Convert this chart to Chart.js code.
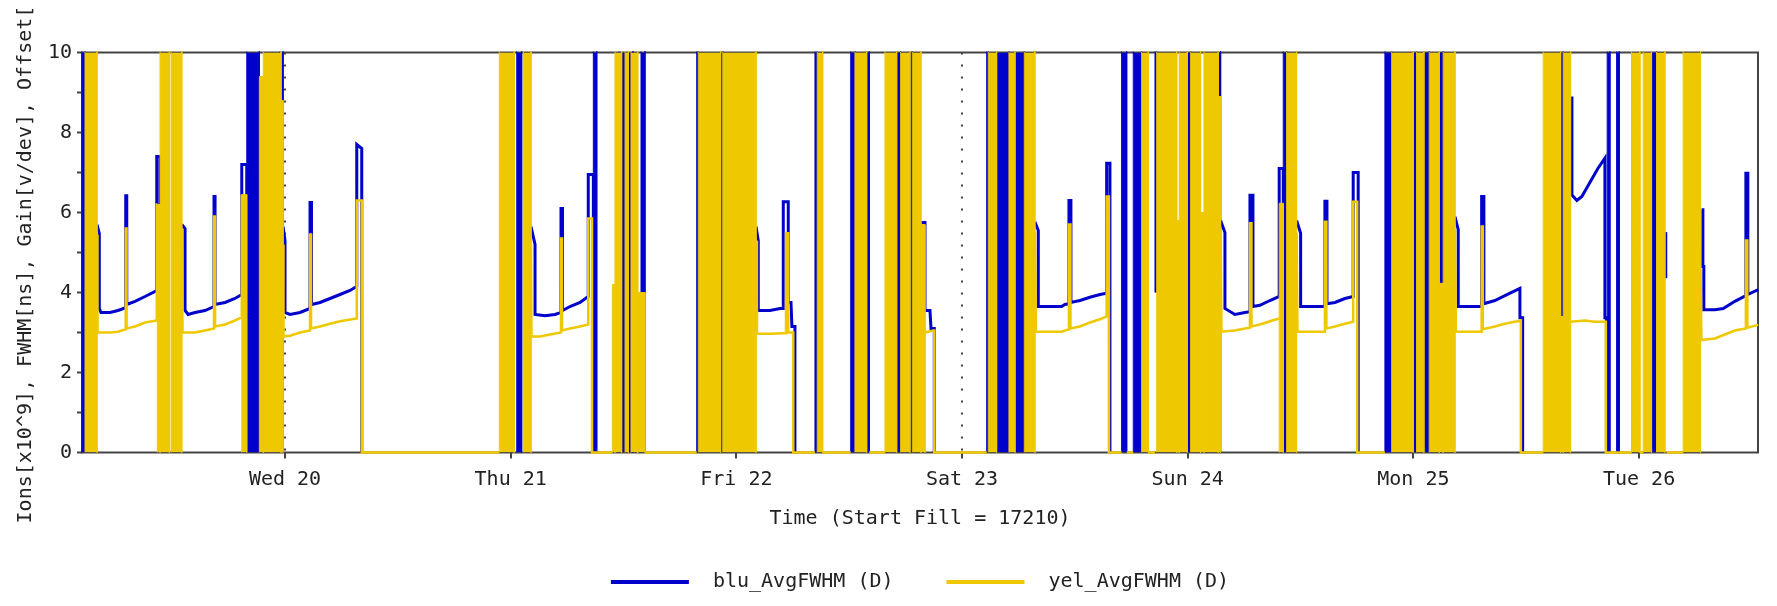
<!DOCTYPE html>
<html><head><meta charset="utf-8">
<script src="https://cdn.jsdelivr.net/npm/chart.js@4/dist/chart.umd.min.js"></script>
<style>html,body{margin:0;padding:0;background:#fff;}#wrap{width:1777px;height:606px;}</style>
</head><body><div id="wrap"><canvas id="c" width="1777" height="606"></canvas></div>
<script>
// ---- time axis: hours since Tue 19 00:00 ----
const xMin = 2.41;
const xMax = 180.65;
const dayTicks = [24, 48, 72, 96, 120, 144, 168];
const dayLabels = ['Wed 20', 'Thu 21', 'Fri 22', 'Sat 23', 'Sun 24', 'Mon 25', 'Tue 26'];
const yTicks = [0, 1, 2, 3, 4, 5, 6, 7, 8, 9, 10];
const yTickLabels = ['0', '', '2', '', '4', '', '6', '', '8', '', '10'];
const seriesNames = ['blu_AvgFWHM (D)', 'yel_AvgFWHM (D)'];
const xTitle = 'Time (Start Fill = 17210)';
const yTitle = 'Ions[x10^9], FWHM[ns], Gain[v/dev], Offset[  ';
const OVER = 10.6; // off-scale (above 10)

// ---- blue series: [hour, value], null = no data ----
const bluPoints = [
  [4.01,5.7],[4.22,5.5],[4.25,3.6],[4.43,3.5],[5.39,3.5],[6.24,3.55],[7.06,3.62],[7.06,6.42],[7.17,6.42],[7.17,3.7],[8.05,3.78],[9.11,3.9],[10.36,4.05],[10.36,7.4],[10.71,7.4],[10.71,0],[10.71,null],
  [13.02,5.7],[13.37,5.6],[13.37,3.55],[13.69,3.45],[14.43,3.5],[15.49,3.55],[16.45,3.65],[16.45,6.4],[16.56,6.4],[16.56,3.7],[17.62,3.75],[18.68,3.85],[19.40,3.95],[19.40,7.2],[19.93,7.2],[19.93,0],[19.93,null],
  [23.79,5.65],[24.00,5.3],[24.00,3.5],[24.53,3.45],[25.60,3.5],[26.66,3.6],[26.66,6.25],[26.82,6.25],[26.82,3.7],[27.72,3.75],[28.79,3.85],[29.85,3.95],[30.91,4.05],[31.63,4.15],[31.63,7.7],[32.16,7.6],[32.16,0],[32.16,null],
  [50.16,5.65],[50.59,5.2],[50.59,3.45],[51.65,3.42],[52.71,3.45],[53.35,3.5],[53.35,6.1],[53.51,6.1],[53.51,3.55],[54.31,3.65],[55.37,3.75],[56.25,3.9],[56.25,6.95],[56.79,6.95],[56.79,0],[56.79,null],
  [74.09,5.65],[74.33,5.3],[74.33,3.55],[75.57,3.55],[76.64,3.6],[76.99,3.6],[76.99,6.27],[77.52,6.27],[77.52,3.75],[77.81,3.75],[77.91,3.15],[78.23,3.15],[78.23,0],[78.23,null],
  [91.63,5.75],[92.06,5.75],[92.06,3.55],[92.59,3.55],[92.70,3.1],[93.05,3.1],[93.05,0],[93.05,null],
  [103.75,5.77],[104.11,5.55],[104.11,3.65],[105.35,3.65],[106.59,3.65],[106.94,3.7],[107.37,3.72],[107.37,6.3],[107.58,6.3],[107.58,3.75],[108.54,3.8],[109.60,3.88],[110.67,3.95],[111.38,3.98],[111.38,7.23],[111.73,7.23],[111.73,0],[111.73,null],
  [123.50,5.8],[123.96,5.5],[123.96,3.6],[125.02,3.45],[126.09,3.5],[126.62,3.52],[126.62,6.43],[126.94,6.43],[126.94,3.65],[127.68,3.68],[128.74,3.8],[129.73,3.9],[129.73,7.1],[130.16,7.1],[130.16,0],[130.16,null],
  [131.58,5.8],[132.01,5.48],[132.01,3.65],[133.00,3.65],[134.59,3.65],[134.59,6.28],[134.81,6.28],[134.81,3.72],[135.66,3.75],[136.72,3.85],[137.60,3.9],[137.60,7.0],[138.13,7.0],[138.13,0],[138.13,null],
  [148.42,5.9],[148.77,5.57],[148.77,3.65],[150.01,3.65],[151.26,3.65],[151.26,6.4],[151.50,6.4],[151.50,3.72],[152.67,3.8],[153.73,3.92],[155.33,4.1],[155.33,3.37],[155.62,3.37],[155.62,0],[155.62,null],
  [160.72,8.86],[160.86,8.86],[160.86,6.44],[161.39,6.3],[161.92,6.4],[162.77,6.75],[163.62,7.1],[164.37,7.36],[164.37,3.37],[164.53,3.37],[164.53,0],[164.53,null],
  [174.65,6.07],[174.79,6.07],[174.79,4.65],[174.89,4.65],[174.89,3.57],[176.06,3.57],[176.95,3.6],[178.19,3.78],[179.36,3.92],[179.36,6.98],[179.57,6.98],[179.57,3.95],[180.67,4.07]
];
// blue dense-oscillation stretches: [from, to, top?, bottom?]
const bluBands = [
  [2.41,2.73],[19.93,21.27],[23.47,23.79],[48.64,49.17],[56.79,57.15],[59.52,61.01],[61.86,62.28],
  [67.78,67.95],[70.33,70.55],[80.36,80.60],[84.16,84.61],[85.86,86.13],[89.05,89.47],[90.46,90.71],
  [98.62,98.79],[99.68,100.99],[101.63,102.62],[112.97,113.51],[114.21,115.10],[116.52,116.70,OVER,4.0],
  [119.95,120.31],[123.25,123.50],[130.16,130.52],[140.97,141.69],[143.98,144.34],[145.12,145.68],
  [146.75,147.17],[159.66,159.93],[164.61,164.90],[165.61,165.89],[169.33,169.86],[170.75,170.93,5.5,4.36]
];

// ---- yellow series ----
const yelPoints = [
  [4.01,5.45],[4.06,3.0],[5.39,3.0],[6.24,3.02],[7.06,3.08],[7.06,5.6],[7.15,5.6],[7.15,3.1],[8.05,3.15],[9.11,3.25],[10.36,3.3],[10.36,6.2],[10.42,6.2],[10.42,null],
  [13.02,5.6],[13.10,3.0],[14.43,3.0],[15.49,3.05],[16.45,3.1],[16.45,5.9],[16.56,5.9],[16.56,3.15],[17.62,3.2],[18.68,3.3],[19.40,3.38],[19.40,6.45],[19.40,null],
  [23.79,5.2],[23.84,2.9],[24.53,2.92],[25.60,3.0],[26.66,3.05],[26.66,5.45],[26.77,5.45],[26.77,3.1],[27.72,3.15],[28.79,3.22],[29.85,3.28],[31.63,3.35],[31.63,6.3],[32.16,6.3],[32.16,0],[46.79,0],[46.79,null],
  [50.16,5.2],[50.21,2.9],[51.12,2.9],[52.18,2.95],[53.35,3.0],[53.35,5.35],[53.46,5.35],[53.46,3.05],[54.31,3.1],[55.37,3.15],[56.25,3.2],[56.25,5.85],[56.65,5.85],[56.65,0],[58.81,0],[58.81,null],
  [62.28,0],[67.78,0],[67.78,null],
  [74.09,5.3],[74.19,2.97],[75.57,2.97],[76.99,2.98],[77.28,2.98],[77.28,5.48],[77.52,5.48],[77.52,3.0],[78.05,3.0],[78.05,0],[80.36,0],[80.36,null],
  [81.18,0],[84.16,0],[84.16,null],[86.13,0],[87.80,0],[87.80,null],
  [92.06,3.0],[92.94,3.05],[93.05,3.05],[93.05,0],[98.62,0],[98.62,null],
  [103.75,5.5],[103.86,3.02],[105.35,3.02],[106.59,3.02],[107.37,3.08],[107.37,5.7],[107.53,5.7],[107.53,3.1],[108.54,3.15],[109.60,3.25],[110.67,3.33],[111.38,3.4],[111.38,6.4],[111.62,6.4],[111.62,0],[112.97,0],[112.97,null],
  [113.51,0],[114.21,0],[114.21,null],[115.81,0],[116.52,0],[116.52,null],
  [123.50,5.5],[123.59,3.02],[125.02,3.05],[126.09,3.1],[126.62,3.12],[126.62,5.73],[126.78,5.73],[126.78,3.15],[127.68,3.2],[128.74,3.28],[129.73,3.35],[129.73,null],
  [131.58,5.5],[131.67,3.02],[133.00,3.02],[134.59,3.02],[134.59,5.77],[134.75,5.77],[134.75,3.1],[135.66,3.15],[136.72,3.22],[137.60,3.27],[137.60,6.27],[138.03,6.27],[138.03,0],[140.97,0],[140.97,null],
  [148.42,5.57],[148.52,3.02],[150.01,3.02],[151.26,3.02],[151.26,5.65],[151.39,5.65],[151.39,3.08],[152.67,3.15],[153.73,3.22],[155.43,3.3],[155.43,0],[157.81,0],[157.81,null],
  [160.72,3.27],[162.24,3.3],[163.30,3.27],[164.47,3.27],[164.47,0],[167.20,0],[167.20,null],
  [168.09,0],[168.44,0],[168.44,null],[170.93,0],[172.69,0],[172.69,null],
  [174.54,4.6],[174.63,2.81],[176.06,2.85],[177.13,2.95],[178.19,3.05],[179.36,3.1],[179.36,5.3],[179.52,5.3],[179.52,3.12],[180.67,3.19]
];
const yelBands = [
  [2.73,4.01],[10.42,10.71,6.2],[10.71,11.70],[11.88,13.02],[19.40,19.93,6.45],[21.27,21.69,9.4],[21.69,23.58],[23.58,23.79,8.8],
  [46.79,48.38],[49.34,50.16],[58.81,59.09,4.2],[59.09,59.80],[60.16,60.51],[60.79,61.51],[61.51,62.28,4.0],
  [67.95,70.33],[70.55,74.09],[80.60,81.18],[84.61,85.86],[87.80,89.05],[89.47,90.46],[90.71,91.63],[91.63,92.06,5.7],
  [98.79,99.68],[100.99,101.63],[102.62,103.75],[115.10,115.81],[116.70,118.83],[118.83,119.10,5.8],[119.10,119.95],
  [120.31,121.37],[121.37,121.73,6.0],[121.73,123.25],[123.25,123.50,8.9],[129.73,130.16,6.23],[130.52,131.58],
  [141.69,143.98],[144.34,145.12],[145.68,146.75],[146.75,147.17,4.23],[147.17,148.42],
  [157.81,159.66],[159.66,159.93,3.4],[159.93,160.72],[167.20,168.09],[168.44,169.33],[169.86,170.75],[172.69,174.54]
];

// ---- styles ----
const BLUE = '#0000CC';
const YELLOW = '#EEC800';
const FRAME = '#444444';
const TEXT = '#222222';
const FONT = '"DejaVu Sans Mono", "Liberation Mono", monospace';

function toXY(pts) { return pts.map(p => ({ x: p[0], y: p[1] })); }
function bandDataset(b, color) {
  const top = b.length > 2 ? b[2] : OVER;
  const bot = b.length > 3 ? b[3] : 0;
  return {
    label: '_band', data: [{x: b[0], y: bot}, {x: b[0], y: top}, {x: b[1], y: top}, {x: b[1], y: bot}],
    borderColor: color, backgroundColor: color, borderWidth: 1, pointRadius: 0, tension: 0,
    fill: { value: bot }, clip: 1
  };
}
function lineDataset(name, pts, color, w) {
  return { label: name, data: toXY(pts), borderColor: color, backgroundColor: color, borderWidth: w,
    pointRadius: 0, tension: 0, fill: false, spanGaps: false, clip: 2 };
}

const datasets = [];
// yellow first => drawn on top
datasets.push(lineDataset(seriesNames[1], yelPoints, YELLOW, 2.5));
yelBands.forEach(b => datasets.push(bandDataset(b, YELLOW)));
datasets.push(lineDataset(seriesNames[0], bluPoints, BLUE, 3));
bluBands.forEach(b => datasets.push(bandDataset(b, BLUE)));

const framePlugin = {
  id: 'frame',
  beforeDatasetsDraw(chart) {
    const a = chart.chartArea, ctx = chart.ctx;
    ctx.save(); ctx.strokeStyle = FRAME; ctx.lineWidth = 2;
    ctx.strokeRect(a.left, a.top, a.right - a.left, a.bottom - a.top);
    ctx.restore();
  }
};
const legendPlugin = {
  id: 'bottomLegend',
  afterDraw(chart) {
    const a = chart.chartArea, ctx = chart.ctx;
    const colors = [BLUE, YELLOW];
    ctx.save();
    ctx.font = '20px ' + FONT;
    ctx.textBaseline = 'middle';
    const lineLen = 78, gap = 24, itemGap = 53, y = 582;
    const widths = seriesNames.map(n => ctx.measureText(n).width);
    const total = lineLen * 2 + gap * 2 + widths[0] + widths[1] + itemGap;
    let x = (a.left + a.right) / 2 - total / 2;
    seriesNames.forEach((n, i) => {
      ctx.strokeStyle = colors[i]; ctx.lineWidth = 4;
      ctx.beginPath(); ctx.moveTo(x, y); ctx.lineTo(x + lineLen, y); ctx.stroke();
      ctx.fillStyle = TEXT; ctx.fillText(n, x + lineLen + gap, y);
      x += lineLen + gap + widths[i] + itemGap;
    });
    ctx.restore();
  }
};

new Chart(document.getElementById('c'), {
  type: 'line',
  data: { datasets },
  options: {
    responsive: false, animation: false, devicePixelRatio: 1,
    layout: { padding: { top: 52.5, right: 19, bottom: 72.5, left: 0 } },
    plugins: { legend: { display: false }, tooltip: { enabled: false } },
    scales: {
      x: {
        type: 'linear', min: xMin, max: xMax,
        afterBuildTicks: s => { s.ticks = dayTicks.map(v => ({ value: v })); },
        afterFit: s => { s.height = 81; },
        ticks: { callback: (v, i) => dayLabels[i], font: { family: FONT, size: 20 }, color: TEXT, padding: 9, maxRotation: 0, autoSkip: false },
        grid: { drawOnChartArea: true, color: FRAME, lineWidth: 2, tickBorderDash: [], tickLength: 6, tickColor: FRAME, tickWidth: 2 },
        border: { display: false, dash: [2, 10] },
        title: { display: true, text: xTitle, font: { family: FONT, size: 20 }, color: TEXT, padding: { top: 0, bottom: 3 } }
      },
      y: {
        type: 'linear', min: 0, max: 10,
        afterBuildTicks: s => { s.ticks = yTicks.map(v => ({ value: v })); },
        afterFit: s => { s.width = 82; },
        ticks: { callback: (v, i) => yTickLabels[i], font: { family: FONT, size: 20 }, color: TEXT, padding: 5, autoSkip: false },
        grid: { drawOnChartArea: false, tickLength: 5, tickColor: FRAME, tickWidth: 2 },
        border: { display: false },
        title: { display: true, text: yTitle, font: { family: FONT, size: 20 }, color: TEXT, padding: { top: 14, bottom: 0 } }
      }
    }
  },
  plugins: [framePlugin, legendPlugin]
});
</script></body></html>
